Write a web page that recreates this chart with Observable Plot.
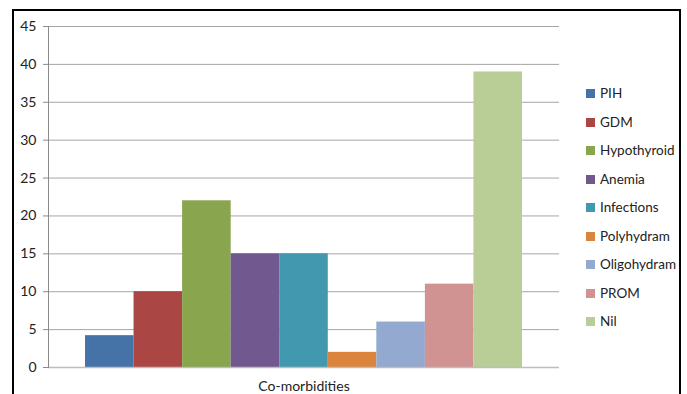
<!DOCTYPE html>
<html>
<head>
<meta charset="utf-8">
<script src="https://cdn.jsdelivr.net/npm/d3@7"></script>
<script src="https://cdn.jsdelivr.net/npm/@observablehq/plot@0.6"></script>
<style>
  html, body { margin: 0; padding: 0; background: #fff; }
  #wrap { position: relative; width: 687px; height: 394px; overflow: hidden; font-family: Lato, "Open Sans", sans-serif; }
  #border { position: absolute; left: 12px; top: 9px; width: 669px; height: 400px; border: 2px solid #000; box-sizing: border-box; }
  #chart { position: absolute; left: 0; top: 0; }
  #legend { position: absolute; left: 586px; top: 85px; width: 93px; overflow: hidden; white-space: nowrap; }
  .item { height: 28.5px; display: flex; align-items: flex-start; font-size: 13.5px; color: #222; line-height: 16px; }
  .sw { width: 9px; height: 9px; margin-top: 4px; margin-right: 5px; flex: none; }
</style>
</head>
<body>
<div id="wrap">
  <div id="border"></div>
  <div id="chart"></div>
  <div id="legend"></div>
</div>
<script>
const group = "Co-morbidities";
const categories = ["PIH", "GDM", "Hypothyroid", "Anemia", "Infections", "Polyhydram", "Oligohydram", "PROM", "Nil"];
const values = [4.2, 10, 22, 15, 15, 2, 6, 11, 39];
const colors = ["#4572A7", "#AA4643", "#89A54E", "#71588F", "#4198AF", "#DB843D", "#93A9CF", "#D19392", "#B9CD96"];
const yTicks = [0, 5, 10, 15, 20, 25, 30, 35, 40, 45];

const data = categories.map((c, i) => ({group, category: c, value: values[i]}));

const chart = Plot.plot({
  width: 687,
  height: 394,
  marginLeft: 48,
  marginRight: 128,
  marginTop: 26,
  marginBottom: 27,
  style: {fontFamily: "Lato, 'Open Sans', sans-serif", fontSize: "14px", color: "#222", background: "transparent"},
  fx: {domain: [group], padding: 0, label: null, round: false},
  x: {domain: categories, padding: 0, insetLeft: 37, insetRight: 37, round: false, axis: null},
  y: {domain: [0, 45], ticks: yTicks, label: null},
  color: {domain: categories, range: colors},
  marks: [
    Plot.gridY(yTicks, {stroke: "#a6a6a6", strokeOpacity: 1}),
    Plot.axisY(yTicks, {tickSize: 5, tickPadding: 7, stroke: "#8a8a8a", fontSize: 14, fill: "#222", label: null}),
    Plot.axisFx({anchor: "bottom", tickSize: 0, tickPadding: 14, fontSize: 14, fill: "#222", label: null}),
    Plot.barY(data, {fx: "group", x: "category", y: "value", fill: "category", inset: 0}),
    Plot.ruleY([0], {stroke: "#bdbdbd", strokeWidth: 1.5}),
    Plot.frame({anchor: "left", stroke: "#8a8a8a"})
  ]
});
document.getElementById("chart").appendChild(chart);

const legend = d3.select("#legend");
categories.forEach((c, i) => {
  const row = legend.append("div").attr("class", "item");
  row.append("div").attr("class", "sw").style("background", colors[i]);
  row.append("span").text(c);
});
</script>
</body>
</html>
